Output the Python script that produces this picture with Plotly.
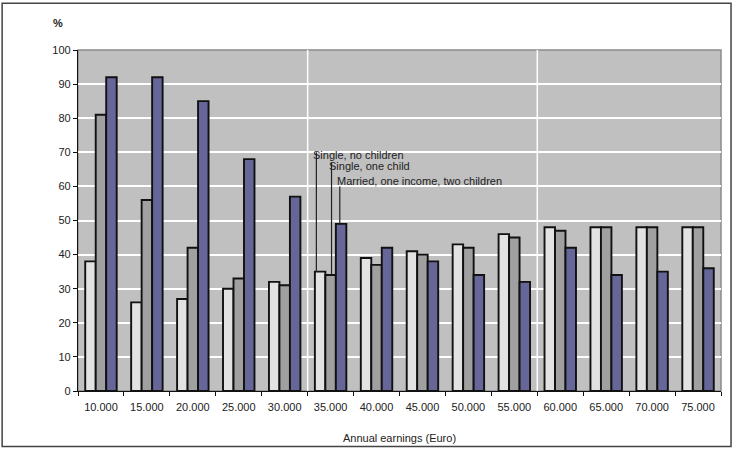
import plotly.graph_objects as go

categories = ["10.000", "15.000", "20.000", "25.000", "30.000", "35.000", "40.000",
              "45.000", "50.000", "55.000", "60.000", "65.000", "70.000", "75.000"]
single_no_children = [38, 26, 27, 30, 32, 35, 39, 41, 43, 46, 48, 48, 48, 48]
single_one_child = [81, 56, 42, 33, 31, 34, 37, 40, 42, 45, 47, 48, 48, 48]
married_two_children = [92, 92, 85, 68, 57, 49, 42, 38, 34, 32, 42, 34, 35, 36]
series_names = ["Single, no children", "Single, one child", "Married, one income, two children"]
y_ticks = list(range(0, 101, 10))

FONT = "Liberation Sans, Arial, sans-serif"
colors = ["#E2E2E2", "#A0A0A0", "#666699"]

fig = go.Figure()
for name, vals, col in zip(series_names,
                           [single_no_children, single_one_child, married_two_children],
                           colors):
    fig.add_trace(go.Bar(x=categories, y=vals, name=name, marker_color=col,
                         marker_line_color="#111111", marker_line_width=1.9))

shapes = []
# plot area frame
shapes.append(dict(type="rect", xref="paper", yref="paper", x0=0, x1=1, y0=0, y1=1,
                   line=dict(color="#8a8a8a", width=1.5), layer="below"))
# vertical white separators
for xv in (4.5, 9.5):
    shapes.append(dict(type="line", xref="x", yref="paper", x0=xv, x1=xv, y0=0, y1=1,
                       line=dict(color="white", width=1.5), layer="below"))
# leader lines for labels (at the 35.000 group)
idx = 5
leaders = [(-0.31, single_no_children[idx], 70), (0.02, single_one_child[idx], 67),
           (0.2, married_two_children[idx], 60)]
for dx, ybar, ytop in leaders:
    shapes.append(dict(type="line", xref="x", yref="y", x0=idx + dx, x1=idx + dx,
                       y0=ybar, y1=ytop, line=dict(color="#222222", width=1.2)))
# outer frame
shapes.append(dict(type="rect", xref="paper", yref="paper", x0=-0.118, x1=1.0156,
                   y0=-0.163, y1=1.137, line=dict(color="#444444", width=1.5)))

annotations = [
    dict(text=series_names[0], x=idx - 0.42, y=69.2, xref="x", yref="y", xanchor="left",
         yanchor="middle", showarrow=False, font=dict(size=11, color="#222222", family=FONT)),
    dict(text=series_names[1], x=idx - 0.07, y=66.0, xref="x", yref="y", xanchor="left",
         yanchor="middle", showarrow=False, font=dict(size=11, color="#222222", family=FONT)),
    dict(text=series_names[2], x=idx + 0.09, y=61.6, xref="x", yref="y", xanchor="left",
         yanchor="middle", showarrow=False, font=dict(size=11, color="#222222", family=FONT)),
    dict(text="<b>%</b>", x=-0.02, y=1.08, xref="paper", yref="paper", xanchor="right",
         yanchor="middle", showarrow=False, font=dict(size=11, color="#222222", family=FONT)),
]

fig.update_layout(
    width=734, height=450,
    margin=dict(l=78, r=13, t=50, b=58.5),
    paper_bgcolor="white", plot_bgcolor="#C0C0C0",
    barmode="group", bargap=0.315, bargroupgap=0,
    showlegend=False,
    font=dict(family=FONT, size=11, color="#222222"),
    shapes=shapes, annotations=annotations,
    xaxis=dict(type="category", showgrid=False, showline=True, linecolor="#111111",
               linewidth=1.2, ticks="outside", ticklen=4, tickcolor="#111111",
               tickson="boundaries", ticklabelstandoff=6, automargin=False,
               title=dict(text="Annual earnings (Euro)", font=dict(size=11, family=FONT),
                          standoff=22),
               tickfont=dict(size=11, family=FONT)),
    yaxis=dict(range=[0, 100], tickvals=y_ticks, showgrid=True, gridcolor="white",
               gridwidth=1.5, showline=True, linecolor="#111111", linewidth=1.2,
               ticks="outside", ticklen=4, tickcolor="#111111", zeroline=False,
               automargin=False, tickfont=dict(size=11, family=FONT)),
)

fig.write_html("out.html", config={"displayModeBar": False},
               post_script="document.body.style.margin='0';document.body.style.overflow='hidden';")
